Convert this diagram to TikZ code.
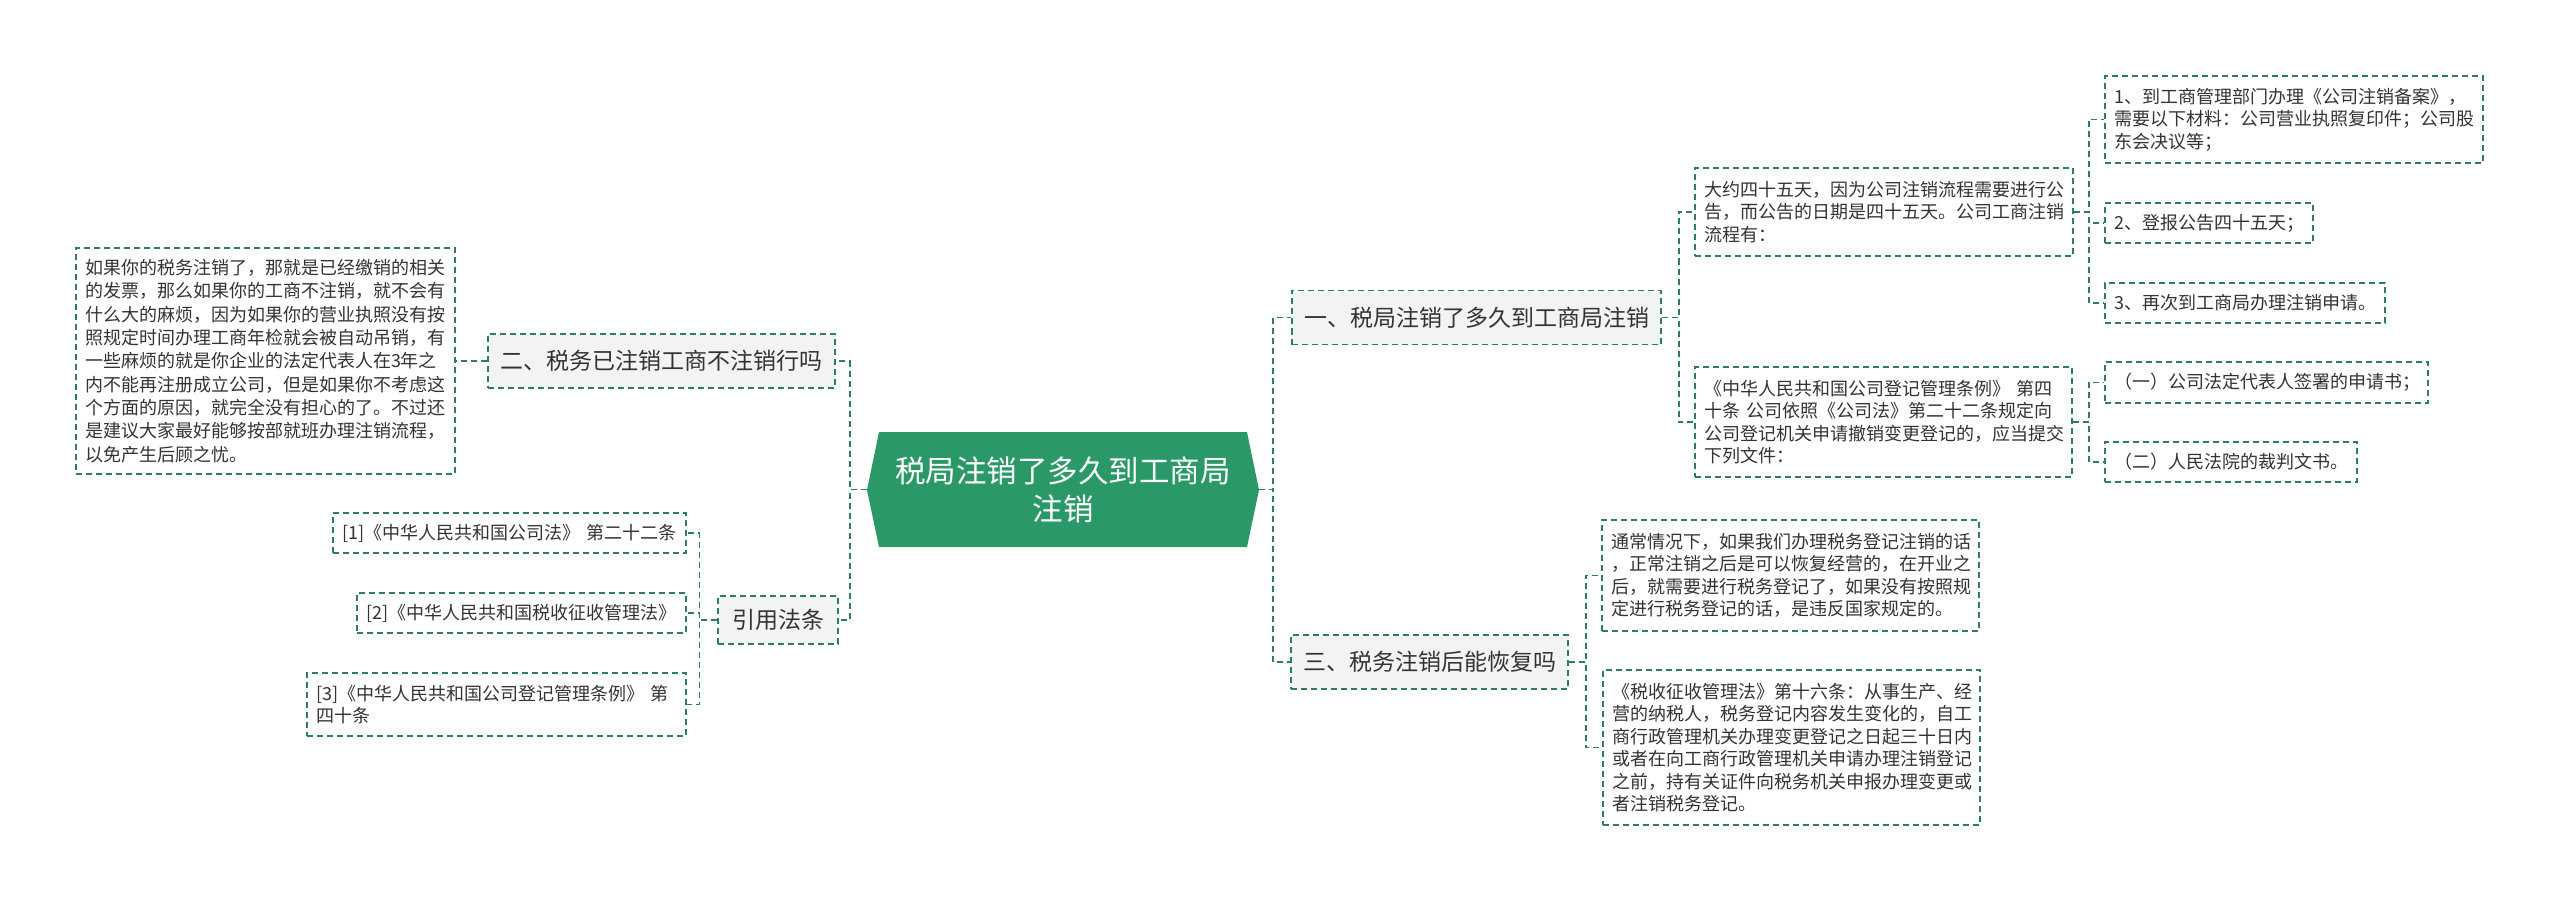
\documentclass[tikz,border=0pt]{standalone}
\usepackage{fontspec}
\setmainfont{Noto Sans CJK SC}
\definecolor{lineg}{RGB}{45,125,95}
\definecolor{rootg}{RGB}{43,153,103}
\definecolor{boxg}{RGB}{241,243,245}
\definecolor{txt}{RGB}{51,51,51}
\tikzset{
  conn/.style={draw=lineg, line width=1.5pt, dash pattern=on 6pt off 4pt},
  lvlone/.style={draw=lineg, line width=1.5pt, dash pattern=on 6pt off 4pt, fill=boxg, text=txt,
    font=\fontsize{23}{28}\selectfont, inner sep=0pt, minimum height=54pt},
  detail/.style={draw=lineg, line width=1.5pt, dash pattern=on 6pt off 4pt, fill=white, text=txt,
    font=\fontsize{18}{22.5}\selectfont, align=left, inner xsep=9pt, inner ysep=0pt},
}
\begin{document}
\begin{tikzpicture}[x=1pt, y=-1pt]
\useasboundingbox[fill=white] (0,0) rectangle (2560,904);

% root
\fill[rootg] (867,490) -- (879,432) -- (1247,432) -- (1259,490) -- (1247,547) -- (879,547) -- cycle;
\node[minimum width=392pt, minimum height=115pt, inner sep=0pt, text=white,
  font=\fontsize{30.5}{38}\selectfont, align=center] (root) at (1063,489.5)
  {税局注销了多久到工商局\\注销};

% level one
\node[lvlone, minimum width=369pt] (one) at (1476.5,317.5) {一、税局注销了多久到工商局注销};
\node[lvlone, minimum width=277pt] (three) at (1429.5,662) {三、税务注销后能恢复吗};
\node[lvlone, minimum width=347pt] (two) at (661.5,361) {二、税务已注销工商不注销行吗};
\node[lvlone, minimum width=120pt, minimum height=48pt] (cite) at (778,620) {引用法条};

% left details
\node[detail, text width=361pt, minimum height=226pt, font=\fontsize{18}{23.3}\selectfont] (twoD) at (265.5,361)
 {如果你的税务注销了，那就是已经缴销的相关\\的发票，那么如果你的工商不注销，就不会有\\什么大的麻烦，因为如果你的营业执照没有按\\照规定时间办理工商年检就会被自动吊销，有\\一些麻烦的就是你企业的法定代表人在3年之\\内不能再注册成立公司，但是如果你不考虑这\\个方面的原因，就完全没有担心的了。不过还\\是建议大家最好能够按部就班办理注销流程，\\以免产生后顾之忧。};

\node[detail, text width=335pt, minimum height=40pt] (r1) at (509.5,533) {[1]《中华人民共和国公司法》 第二十二条};
\node[detail, text width=311pt, minimum height=40pt] (r2) at (521.5,613) {[2]《中华人民共和国税收征收管理法》};
\node[detail, text width=361pt, minimum height=63pt] (r3) at (496.5,704.5) {[3]《中华人民共和国公司登记管理条例》 第\\四十条};

% right details
\node[detail, text width=360pt, minimum height=88pt] (A) at (1884,212)
 {大约四十五天，因为公司注销流程需要进行公\\告，而公告的日期是四十五天。公司工商注销\\流程有：};
\node[detail, text width=359pt, minimum height=110pt] (B) at (1883.5,422)
 {《中华人民共和国公司登记管理条例》 第四\\十条 公司依照《公司法》第二十二条规定向\\公司登记机关申请撤销变更登记的，应当提交\\下列文件：};

\node[detail, text width=360pt, minimum height=87pt] (i1) at (2294,119.5)
 {1、到工商管理部门办理《公司注销备案》，\\需要以下材料：公司营业执照复印件；公司股\\东会决议等；};
\node[detail, text width=190pt, minimum height=40pt] (i2) at (2209,223) {2、登报公告四十五天；};
\node[detail, text width=262pt, minimum height=40pt] (i3) at (2245,303) {3、再次到工商局办理注销申请。};

\node[detail, text width=305pt, minimum height=41pt] (b1) at (2266.5,382.5) {（一）公司法定代表人签署的申请书；};
\node[detail, text width=234pt, minimum height=40pt] (b2) at (2231,462) {（二）人民法院的裁判文书。};

\node[detail, text width=359pt, minimum height=111pt] (C) at (1790.5,575.5)
 {通常情况下，如果我们办理税务登记注销的话\\，正常注销之后是可以恢复经营的，在开业之\\后，就需要进行税务登记了，如果没有按照规\\定进行税务登记的话，是违反国家规定的。};
\node[detail, text width=359pt, minimum height=155pt] (D) at (1791.5,747.5)
 {《税收征收管理法》第十六条：从事生产、经\\营的纳税人，税务登记内容发生变化的，自工\\商行政管理机关办理变更登记之日起三十日内\\或者在向工商行政管理机关申请办理注销登记\\之前，持有关证件向税务机关申报办理变更或\\者注销税务登记。};

% connectors
\draw[conn] (root.east) -- ++(14,0) |- (one.west);
\draw[conn] (root.east) -- ++(14,0) |- (three.west);
\draw[conn] (root.west) -- ++(-17,0) |- (two.east);
\draw[conn] (root.west) -- ++(-17,0) |- (cite.east);
\draw[conn] (two.west) -- (twoD.east);
\draw[conn] (cite.west) -- ++(-18,0) |- (r1.east);
\draw[conn] (cite.west) -- ++(-18,0) |- (r2.east);
\draw[conn] (cite.west) -- ++(-18,0) |- (r3.east);
\draw[conn] (one.east) -- ++(17,0) |- (A.west);
\draw[conn] (one.east) -- ++(17,0) |- (B.west);
\draw[conn] (A.east) -- ++(15,0) |- (i1.west);
\draw[conn] (A.east) -- ++(15,0) |- (i2.west);
\draw[conn] (A.east) -- ++(15,0) |- (i3.west);
\draw[conn] (B.east) -- ++(16,0) |- (b1.west);
\draw[conn] (B.east) -- ++(16,0) |- (b2.west);
\draw[conn] (three.east) -- ++(17,0) |- (C.west);
\draw[conn] (three.east) -- ++(17,0) |- (D.west);
\end{tikzpicture}
\end{document}
